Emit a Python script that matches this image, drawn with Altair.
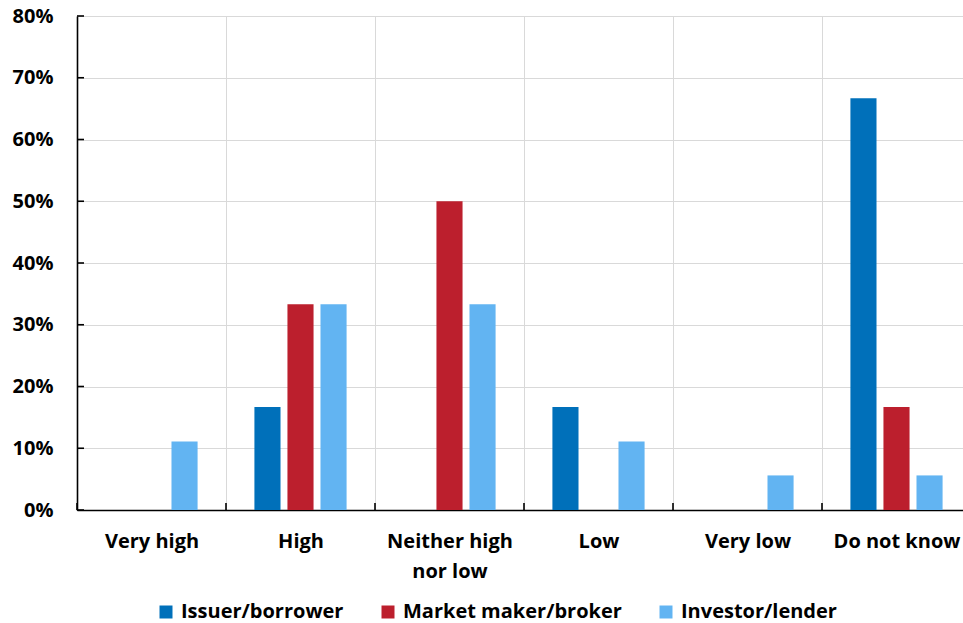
import altair as alt
import pandas as pd

# Survey answers by respondent type (% of respondents)
categories = ["Very high", "High", "Neither high nor low", "Low", "Very low", "Do not know"]
groups = ["Issuer/borrower", "Market maker/broker", "Investor/lender"]
issuer = [0.0, 16.7, 0.0, 16.7, 0.0, 66.7]
market_maker = [0.0, 33.3, 50.0, 0.0, 0.0, 16.7]
investor = [11.1, 33.3, 33.3, 11.1, 5.6, 5.6]
y_ticks = [0, 10, 20, 30, 40, 50, 60, 70, 80]
colors = ["#0070BA", "#BC1F2D", "#62B4F2"]

FONT = "Open Sans"
FONT_SIZE = 20
W, H = 886, 494
BAND_RANGE = [0, 894]

rows = []
for g, series in zip(groups, [issuer, market_maker, investor]):
    for c, v in zip(categories, series):
        rows.append({"category": c, "group": g, "value": v})
df = pd.DataFrame(rows)

x_scale = alt.Scale(domain=categories, range=BAND_RANGE, paddingInner=0, paddingOuter=0)
y_scale = alt.Scale(domain=[0, 80], nice=False)

bars = alt.Chart(df).mark_bar().encode(
    x=alt.X(
        "category:N",
        sort=categories,
        scale=x_scale,
        axis=alt.Axis(
            title=None,
            labelAngle=0,
            ticks=False,
            tickBand="extent",
            grid=True,
            gridColor="#D9D9D9",
            gridWidth=1,
            domainColor="#000000",
            domainWidth=1.6,
            labelPadding=21,
            labelLineHeight=30,
            labelExpr="datum.label == 'Neither high nor low' ? ['Neither high', 'nor low'] : datum.label",
        ),
    ),
    xOffset=alt.XOffset(
        "group:N",
        sort=groups,
        scale=alt.Scale(domain=groups, paddingInner=0.21, paddingOuter=0.86),
    ),
    y=alt.Y(
        "value:Q",
        scale=y_scale,
        axis=alt.Axis(
            title=None,
            values=y_ticks,
            ticks=False,
            grid=True,
            gridColor="#D9D9D9",
            gridWidth=1,
            domainColor="#000000",
            domainWidth=1.6,
            labelPadding=24,
            labelExpr="datum.value + '%'",
        ),
    ),
    color=alt.Color(
        "group:N",
        sort=groups,
        scale=alt.Scale(domain=groups, range=colors),
        legend=alt.Legend(
            title=None,
            orient="none",
            direction="horizontal",
            legendX=79,
            legendY=586,
            symbolType="square",
            symbolSize=169,
            symbolStrokeWidth=0,
            labelOffset=5,
            labelLimit=0,
            columnPadding=34,
        ),
    ),
)

# Short inward tick marks at category boundaries on the x axis
x_tick_df = pd.DataFrame({"category": categories})
x_ticks = alt.Chart(x_tick_df).mark_rule(color="#000000", strokeWidth=1.6).encode(
    x=alt.X("category:N", sort=categories, scale=x_scale, bandPosition=0),
    y=alt.value(H),
    y2=alt.value(H - 7),
)

# Short inward tick marks on the y axis
y_tick_df = pd.DataFrame({"value": y_ticks})
y_tick_marks = alt.Chart(y_tick_df).mark_rule(color="#000000", strokeWidth=1.6).encode(
    y=alt.Y("value:Q", scale=y_scale),
    x=alt.value(0),
    x2=alt.value(7),
)

chart = (
    alt.layer(bars, x_ticks, y_tick_marks)
    .properties(
        width=W,
        height=H,
        autosize=alt.AutoSizeParams(type="none"),
        padding={"left": 77, "top": 16, "right": 0, "bottom": 113},
    )
    .configure_view(stroke=None)
    .configure_axis(
        labelFont=FONT,
        labelFontSize=FONT_SIZE,
        labelFontWeight="bold",
        labelColor="#000000",
    )
    .configure_legend(
        labelFont=FONT,
        labelFontSize=FONT_SIZE,
        labelFontWeight="bold",
        labelColor="#000000",
    )
)

chart.save("out.html", embed_options={"renderer": "svg", "actions": False})
